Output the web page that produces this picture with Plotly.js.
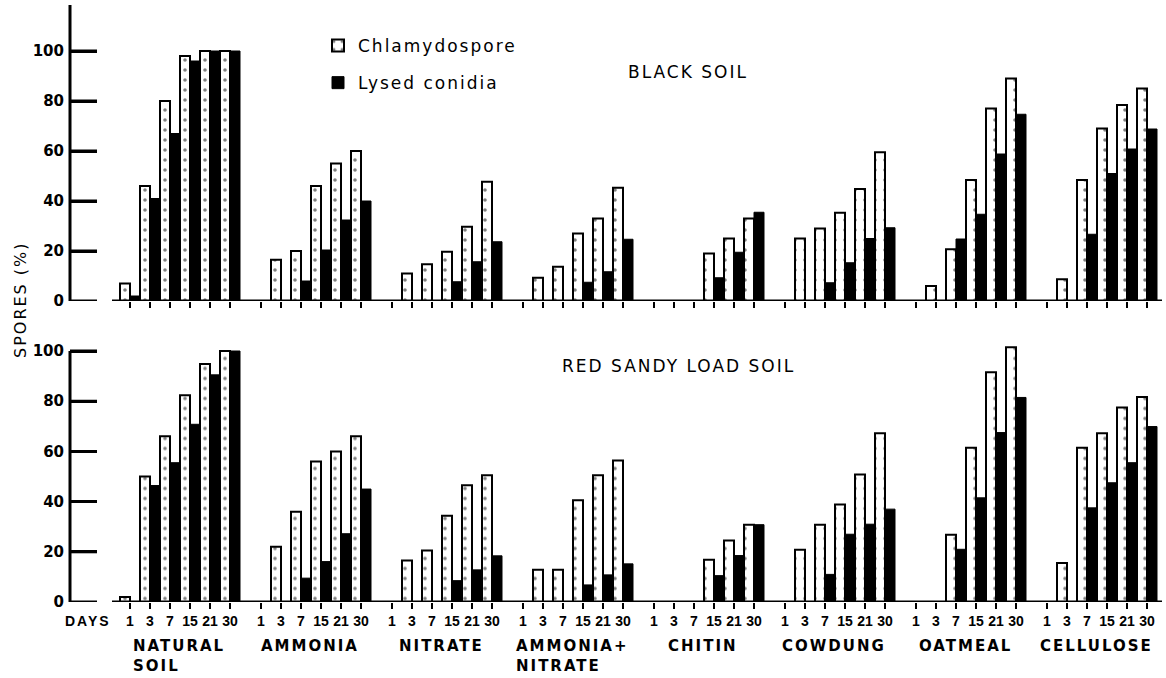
<!DOCTYPE html>
<html>
<head>
<meta charset="utf-8">
<script src="https://cdn.plot.ly/plotly-3.0.1.min.js"></script>
<style>
  html, body { margin:0; padding:0; background:#fff; }
  .annotation-text, .legendtext { letter-spacing: 2px; }
</style>
</head>
<body>
<div id="chart" style="width:1166px;height:678px;"></div>
<script>
// ---- data ----
const days = ['1', '3', '7', '15', '21', '30'];
const amendments = ['NATURAL<br>SOIL', 'AMMONIA', 'NITRATE', 'AMMONIA+<br>NITRATE', 'CHITIN', 'COWDUNG', 'OATMEAL', 'CELLULOSE'];

// Black soil (% spores), 6 days per amendment
const blackChlamydospore = [
  [7, 46, 80, 98, 100, 100],
  [0, 16.5, 20, 46, 55, 60],
  [0, 11, 14.7, 19.7, 29.7, 47.7],
  [0, 9.3, 13.7, 27, 33, 45.3],
  [0, 0, 0, 19, 25, 33],
  [0, 25, 29, 35.3, 44.8, 59.5],
  [0, 6, 20.7, 48.4, 77, 89],
  [0, 8.7, 48.4, 69, 78.4, 85]
];
const blackLysed = [
  [2, 41, 67, 96, 100, 100],
  [0, 0, 8, 20.4, 32.4, 40],
  [0, 0, 0, 7.7, 15.7, 23.7],
  [0, 0, 0, 7.5, 11.7, 24.7],
  [0, 0, 0, 9.3, 19.5, 35.5],
  [0, 0, 7.3, 15.3, 25, 29.3],
  [0, 0, 24.8, 34.7, 58.8, 74.7],
  [0, 0, 26.7, 51, 60.8, 68.8]
];
// Red sandy load soil
const redChlamydospore = [
  [2, 50, 66, 82.4, 94.8, 100],
  [0, 22, 36, 56, 60, 66],
  [0, 16.5, 20.5, 34.4, 46.5, 50.5],
  [0, 12.8, 12.8, 40.5, 50.5, 56.4],
  [0, 0, 0, 16.8, 24.5, 30.8],
  [0, 20.8, 30.8, 38.8, 50.8, 67.2],
  [0, 0, 26.8, 61.5, 91.5, 101.5],
  [0, 15.5, 61.5, 67.2, 77.5, 81.7]
];
const redLysed = [
  [0, 46.4, 55.5, 70.8, 90.5, 100],
  [0, 0, 9.5, 16.1, 27.2, 45],
  [0, 0, 0, 8.5, 12.8, 18.4],
  [0, 0, 0, 6.8, 10.8, 15.2],
  [0, 0, 0, 10.5, 18.5, 30.8],
  [0, 0, 11, 27, 31, 37],
  [0, 0, 21, 41.5, 67.5, 81.5],
  [0, 0, 37.5, 47.5, 55.5, 69.9]
];
const yTicks = [0, 20, 40, 60, 80, 100];

// ---- layout helpers ----
const W = 1166, H = 678, ML = 70, MR = 4, MT = 5, MB = 76;
const PW = W - ML - MR, PH = H - MT - MB;
const px2x = p => (p - ML) / PW;
const py2y = p => (H - MB - p) / PH;
const groupStride = 6.55;

const xs = [], xt = [];
amendments.forEach((a, g) => days.forEach((d, i) => { xs.push(g * groupStride + i); xt.push(d); }));
const flat = arr => arr.reduce((acc, r) => acc.concat(r), []);
const xRange = [(ML - 130) / 20, (W - MR - 130) / 20];
const tickEnd = xRange[0] + 27 / 20;

const dotted = {
  color: 'white',
  line: {color: 'black', width: 2},
  pattern: {shape: '.', fgcolor: 'black', bgcolor: 'white', size: 10, solidity: 0.1, fillmode: 'overlay'}
};
const solid = {color: 'black', line: {color: 'black', width: 1}};

// inward y-axis tick marks, drawn from the tick values
const tickX = [], tickY = [];
yTicks.forEach(v => { tickX.push(xRange[0], tickEnd, null); tickY.push(v, v, null); });

const traces = [
  {type: 'bar', name: 'Chlamydospore', x: xs, y: flat(blackChlamydospore), xaxis: 'x', yaxis: 'y', marker: dotted, legendgroup: 'a', hoverinfo: 'y'},
  {type: 'bar', name: 'Lysed conidia', x: xs, y: flat(blackLysed), xaxis: 'x', yaxis: 'y', marker: solid, legendgroup: 'b', hoverinfo: 'y'},
  {type: 'bar', name: 'Chlamydospore', x: xs, y: flat(redChlamydospore), xaxis: 'x2', yaxis: 'y2', marker: dotted, showlegend: false, hoverinfo: 'y'},
  {type: 'bar', name: 'Lysed conidia', x: xs, y: flat(redLysed), xaxis: 'x2', yaxis: 'y2', marker: solid, showlegend: false, hoverinfo: 'y'},
  {type: 'scatter', mode: 'lines', x: tickX, y: tickY, xaxis: 'x', yaxis: 'y', line: {color: 'black', width: 3}, showlegend: false, hoverinfo: 'skip', cliponaxis: false, connectgaps: false},
  {type: 'scatter', mode: 'lines', x: tickX, y: tickY, xaxis: 'x2', yaxis: 'y2', line: {color: 'black', width: 3}, showlegend: false, hoverinfo: 'skip', cliponaxis: false, connectgaps: false}
];

const txtFont = {family: 'DejaVu Sans', size: 17, color: 'black'};
const grpFont = {family: 'DejaVu Sans', size: 15, color: 'black', weight: 'bold'};
const tickFont = {family: 'DejaVu Sans', size: 15, color: 'black', weight: 'bold'};
const dayFont = {family: 'Liberation Sans', size: 14, color: 'black', weight: 'bold'};

const xCommon = {
  range: xRange, tickvals: xs, ticks: 'outside', ticklen: 6, tickwidth: 2, tickcolor: 'black',
  showgrid: false, zeroline: false, showline: false, fixedrange: true
};
const yCommon = {
  tickvals: yTicks, ticks: 'inside', ticklen: 27, tickwidth: 3, tickcolor: 'black', ticklabelstandoff: 5,
  showgrid: false, zeroline: false, tickfont: tickFont, fixedrange: true
};

const annotations = [
  {text: 'BLACK SOIL', x: px2x(688), y: py2y(72), xref: 'paper', yref: 'paper', xanchor: 'center', yanchor: 'middle', showarrow: false, font: txtFont},
  {text: 'RED SANDY LOAD SOIL', x: px2x(678), y: py2y(366), xref: 'paper', yref: 'paper', xanchor: 'center', yanchor: 'middle', showarrow: false, font: txtFont},
  {text: 'DAYS', x: px2x(88), y: py2y(621), xref: 'paper', yref: 'paper', xanchor: 'center', yanchor: 'middle', showarrow: false, font: {family: 'Liberation Sans', size: 14, color: 'black', weight: 'bold'}},
  {text: 'SPORES (%)', x: px2x(20), y: py2y(300), xref: 'paper', yref: 'paper', xanchor: 'center', yanchor: 'middle', showarrow: false, textangle: -90, font: {family: 'DejaVu Sans', size: 16, color: 'black'}}
];
amendments.forEach((a, g) => {
  annotations.push({
    text: a, x: g * groupStride + 2.45, y: py2y(635), xref: 'x2', yref: 'paper',
    xanchor: 'center', yanchor: 'top', align: 'left', showarrow: false, font: grpFont
  });
});

// axis lines
const shapes = [
  {type: 'line', xref: 'x', yref: 'y', x0: -0.9, x1: xRange[1], y0: 0, y1: 0, line: {color: 'black', width: 3}},
  {type: 'line', xref: 'x2', yref: 'y2', x0: -0.9, x1: xRange[1], y0: 0, y1: 0, line: {color: 'black', width: 3}},
  {type: 'line', xref: 'paper', yref: 'y', x0: 0, x1: 0, y0: 0, y1: 118.4, line: {color: 'black', width: 3}},
  {type: 'line', xref: 'paper', yref: 'y2', x0: 0, x1: 0, y0: 0, y1: 100, line: {color: 'black', width: 3}}
];

const layout = {
  width: W, height: H,
  margin: {l: ML, r: MR, t: MT, b: MB},
  paper_bgcolor: 'white', plot_bgcolor: 'white',
  barmode: 'group', bargap: 0, bargroupgap: 0,
  font: {family: 'DejaVu Sans', color: 'black'},
  xaxis: Object.assign({}, xCommon, {anchor: 'y', showticklabels: false}),
  yaxis: Object.assign({}, yCommon, {anchor: 'x', domain: [py2y(301), 1], range: [0, 118.4]}),
  xaxis2: Object.assign({}, xCommon, {anchor: 'y2', showticklabels: true, ticktext: xt, tickfont: dayFont}),
  yaxis2: Object.assign({}, yCommon, {anchor: 'x2', domain: [0, py2y(602 - 103 * 2.51)], range: [0, 103]}),
  showlegend: true,
  legend: {
    x: px2x(318), y: py2y(28), xanchor: 'left', yanchor: 'top',
    bgcolor: 'rgba(0,0,0,0)', font: txtFont, traceorder: 'grouped', tracegroupgap: 12
  },
  shapes: shapes,
  annotations: annotations
};

Plotly.newPlot('chart', traces, layout, {displayModeBar: false, staticPlot: true});
</script>
</body>
</html>
